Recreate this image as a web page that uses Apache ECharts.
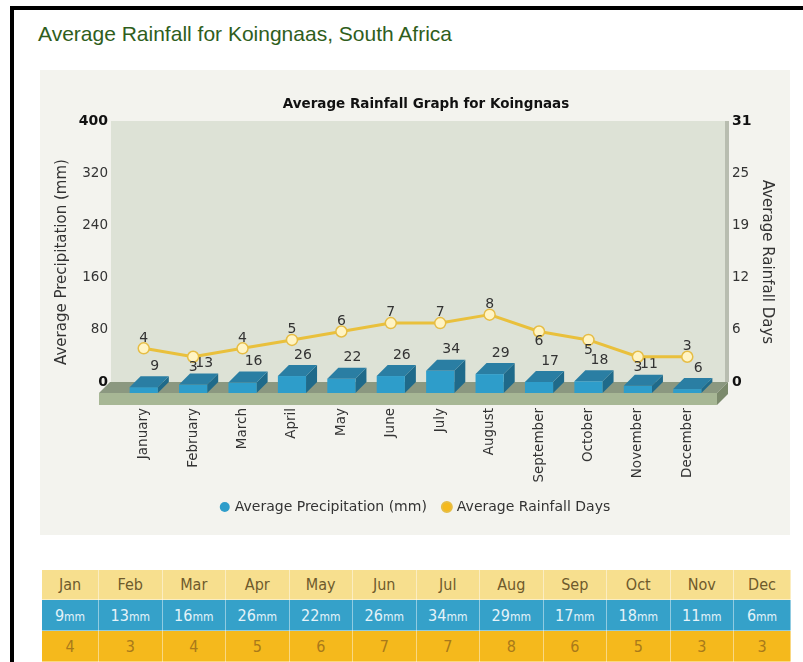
<!DOCTYPE html>
<html>
<head>
<meta charset="utf-8">
<title>Average Rainfall for Koingnaas</title>
<script src="https://cdn.jsdelivr.net/npm/echarts@6/dist/echarts.min.js"></script>
<style>
  body {
    margin: 0;
    width: 803px;
    height: 662px;
    overflow: hidden;
    position: relative;
    background: #fff;
    font-family: "Liberation Sans", Arial, sans-serif;
  }
  .frame {
    position: absolute;
    left: 10px;
    top: 6px;
    width: 800px;
    height: 660px;
    border-left: 4px solid #000;
    border-top: 4px solid #000;
  }
  h1 {
    position: absolute;
    left: 38px;
    top: 22px;
    margin: 0;
    font-size: 21px;
    font-weight: normal;
    color: #2f5e1c;
  }
  #chart {
    position: absolute;
    left: 40px;
    top: 70px;
    width: 750px;
    height: 465px;
  }
  table.rain {
    position: absolute;
    left: 41px;
    top: 569px;
    width: 749px;
    border-collapse: collapse;
    table-layout: fixed;
    font-family: "Liberation Sans Narrow", "DejaVu Sans Condensed", sans-serif;
    font-size: 16px;
    text-align: center;
  }
  table.rain td, table.rain th {
    box-sizing: border-box;
    padding: 0;
    border: 1px solid rgba(255, 255, 255, 0.45);
  }
  table.rain th {
    height: 30px;
    background: #f7df8e;
    color: #6e5a2c;
    font-weight: normal;
  }
  table.rain td.mm {
    height: 31px;
    background: #35a1c9;
    color: #e4f3f9;
  }
  table.rain td.mm span {
    font-size: 12px;
  }
  table.rain td.days {
    height: 31px;
    background: #f5b91c;
    color: #a9791a;
  }
</style>
</head>
<body>
<div class="frame"></div>
<h1>Average Rainfall for Koingnaas, South Africa</h1>
<div id="chart"></div>
<table class="rain" id="rainTable"></table>

<script>
// data
var months = ['January', 'February', 'March', 'April', 'May', 'June',
  'July', 'August', 'September', 'October', 'November', 'December']
var precipitation = [9, 13, 16, 26, 22, 26, 34, 29, 17, 18, 11, 6]
var rainDays = [4, 3, 4, 5, 6, 7, 7, 8, 6, 5, 3, 3]

// which line labels sit under their point
var labelBelow = [1, 8, 9, 10]

// 3D look
var DEPTH = 11
var BAR_FRONT = '#2e9dca'
var BAR_TOP = '#2a7ea3'
var BAR_SIDE = '#1f6a8a'
var LINE_COLOR = '#e9c03c'
var FONT = 'DejaVu Sans'

var chart = echarts.init(document.getElementById('chart'))

function render3dBar(params, api) {
  var i = api.value(0)
  var v = api.value(1)
  var base = api.coord([i, 0])
  var top = api.coord([i, v])
  var w = api.size([1, 0])[0] * 0.57
  var x0 = base[0] - w / 2
  var x1 = base[0] + w / 2
  var yb = base[1] + DEPTH
  var yt = top[1] + DEPTH
  var d = DEPTH
  return {
    type: 'group',
    children: [
      {
        type: 'polygon',
        shape: { points: [[x1, yt], [x1 + d, yt - d], [x1 + d, yb - d], [x1, yb]] },
        style: { fill: BAR_SIDE }
      },
      {
        type: 'rect',
        shape: { x: x0, y: yt, width: w, height: yb - yt },
        style: { fill: BAR_FRONT }
      },
      {
        type: 'polygon',
        shape: { points: [[x0, yt], [x1, yt], [x1 + d, yt - d], [x0 + d, yt - d]] },
        style: { fill: BAR_TOP }
      },
      {
        type: 'text',
        style: {
          text: String(v),
          x: base[0] + d,
          y: yt - d - 3,
          align: 'center',
          verticalAlign: 'bottom',
          fill: '#333',
          fontSize: 14,
          fontFamily: FONT
        }
      }
    ]
  }
}

var dayData = rainDays.map(function (v, i) {
  return {
    value: v,
    label: { position: labelBelow.indexOf(i) >= 0 ? 'bottom' : 'top' }
  }
})

var option = {
  backgroundColor: '#f3f3ee',
  animation: false,
  title: {
    text: 'Average Rainfall Graph for Koingnaas',
    left: 381,
    top: 22,
    textAlign: 'center',
    textStyle: { fontFamily: FONT, fontSize: 13.5, fontWeight: 'bold', color: '#111' }
  },
  legend: {
    left: 'center',
    top: 425,
    itemWidth: 10,
    itemHeight: 10,
    itemGap: 14,
    textStyle: { fontFamily: FONT, fontSize: 14, color: '#333' },
    data: [
      { name: 'Average Precipitation (mm)', icon: 'circle', itemStyle: { color: '#2e9dca' } },
      { name: 'Average Rainfall Days', icon: 'circle', itemStyle: { color: '#f5b91c' } }
    ]
  },
  graphic: [
    // back wall
    { type: 'rect', z: -10, shape: { x: 71, y: 51, width: 614, height: 261 }, style: { fill: '#dde2d6' } },
    { type: 'rect', z: -10, shape: { x: 685, y: 51, width: 4, height: 261 }, style: { fill: '#b8bdb0' } },
    // floor slab
    { type: 'polygon', z: -10, shape: { points: [[70, 312], [688, 312], [677, 323], [59, 323]] }, style: { fill: '#8b9880' } },
    { type: 'rect', z: -10, shape: { x: 59, y: 323, width: 618, height: 12 }, style: { fill: '#a7b795' } },
    { type: 'polygon', z: -10, shape: { points: [[677, 323], [688, 312], [688, 324], [677, 335]] }, style: { fill: '#7b8a6c' } },
    // axis names
    {
      type: 'text', rotation: Math.PI / 2, x: 22, y: 192,
      style: { text: 'Average Precipitation (mm)', align: 'center', verticalAlign: 'middle', fill: '#333', fontSize: 15, fontFamily: FONT }
    },
    {
      type: 'text', rotation: -Math.PI / 2, x: 727, y: 192,
      style: { text: 'Average Rainfall Days', align: 'center', verticalAlign: 'middle', fill: '#333', fontSize: 15, fontFamily: FONT }
    }
  ],
  grid: {
    left: 79,
    right: 78,
    top: 51,
    bottom: 153
  },
  xAxis: {
    type: 'category',
    data: months,
    axisLine: { show: false },
    axisTick: { show: false },
    axisLabel: {
      rotate: 90,
      margin: 26,
      interval: 0,
      color: '#333',
      fontSize: 13.5,
      fontFamily: FONT
    }
  },
  yAxis: [
    {
      type: 'value',
      min: 0,
      max: 400,
      interval: 80,
      axisLine: { show: false },
      axisTick: { show: false },
      splitLine: { show: false },
      axisLabel: {
        margin: 11,
        color: '#333',
        fontSize: 13.5,
        fontFamily: FONT,
        formatter: function (v) {
          return (v === 0 || v === 400) ? '{b|' + v + '}' : String(v)
        },
        rich: { b: { fontWeight: 'bold', fontSize: 14, fontFamily: FONT, color: '#111' } }
      }
    },
    {
      type: 'value',
      min: 0,
      max: 31,
      interval: 6.2,
      position: 'right',
      axisLine: { show: false },
      axisTick: { show: false },
      splitLine: { show: false },
      axisLabel: {
        margin: 20,
        color: '#333',
        fontSize: 13.5,
        fontFamily: FONT,
        showMaxLabel: true,
        formatter: function (v) {
          var r = Math.round(v)
          return (r === 0 || r === 31) ? '{b|' + r + '}' : String(r)
        },
        rich: { b: { fontWeight: 'bold', fontSize: 14, fontFamily: FONT, color: '#111' } }
      }
    }
  ],
  series: [
    {
      name: 'Average Precipitation (mm)',
      type: 'custom',
      renderItem: render3dBar,
      itemStyle: { color: BAR_FRONT },
      encode: { x: 0, y: 1 },
      data: precipitation.map(function (v, i) { return [i, v] }),
      z: 2
    },
    {
      name: 'Average Rainfall Days',
      type: 'line',
      yAxisIndex: 1,
      data: dayData,
      symbol: 'circle',
      symbolSize: 11,
      lineStyle: { color: LINE_COLOR, width: 3 },
      itemStyle: { color: '#fff4c4', borderColor: '#e6bd45', borderWidth: 1.5 },
      label: {
        show: true,
        distance: -3,
        color: '#333',
        fontSize: 14,
        fontFamily: FONT
      },
      z: 5
    }
  ]
}

chart.setOption(option)

// table under the chart
var table = document.getElementById('rainTable')
var head = '<tr>' + months.map(function (m, i) {
  var w = (i === 0 || i === months.length - 1) ? 57 : 63.5
  return '<th style="width:' + w + 'px">' + m.slice(0, 3) + '</th>'
}).join('') + '</tr>'
var mmRow = '<tr>' + precipitation.map(function (v) {
  return '<td class="mm">' + v + '<span>mm</span></td>'
}).join('') + '</tr>'
var dayRow = '<tr>' + rainDays.map(function (v) {
  return '<td class="days">' + v + '</td>'
}).join('') + '</tr>'
table.innerHTML = head + mmRow + dayRow
</script>
</body>
</html>
